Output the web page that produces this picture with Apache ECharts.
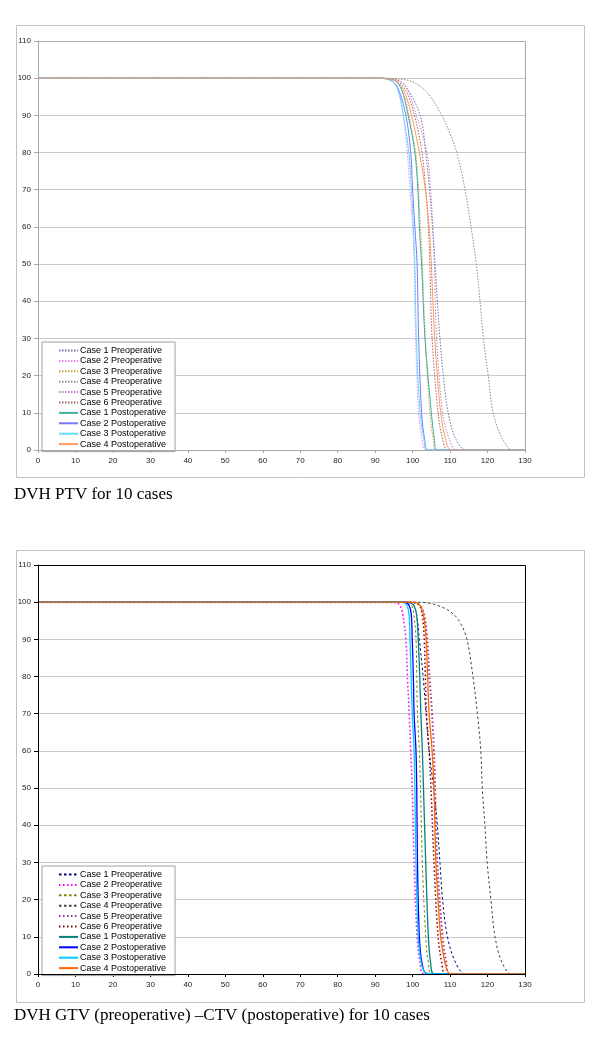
<!DOCTYPE html>
<html><head><meta charset="utf-8">
<script src="https://cdn.jsdelivr.net/npm/echarts@6/dist/echarts.min.js"></script>
<style>html,body{margin:0;padding:0;background:#fff;}#c1{position:absolute;left:0;top:0;width:600px;height:520px;}#c2{position:absolute;left:0;top:520px;width:600px;height:525px;}</style>
</head><body><div id="c1"></div><div id="c2"></div>
<script>
// ---------- DATA ----------
const seriesNames = ['Case 1 Preoperative','Case 2 Preoperative','Case 3 Preoperative','Case 4 Preoperative','Case 5 Preoperative','Case 6 Preoperative','Case 1 Postoperative','Case 2 Postoperative','Case 3 Postoperative','Case 4 Postoperative'];
const xTicks = [0,10,20,30,40,50,60,70,80,90,100,110,120,130];
const yTicks = [0,10,20,30,40,50,60,70,80,90,100,110];
const captionPTV = 'DVH PTV for 10 cases';
const captionGTV = 'DVH GTV (preoperative) \u2013CTV (postoperative) for 10 cases';

// Chart 1: PTV  (dose %, volume %)
const ptvPre1 = [[0,100],[90,100],[95,99.7],[98,98],[102,90],[103.5,80],[104.5,70],[105.3,60],[106,50],[106.6,40],[107.3,30],[108.2,20],[109.5,10],[111.5,3],[114.4,0],[130,0]];
const ptvPre2 = [[0,100],[90,100],[94,99.5],[96,97],[97.5,90],[98.6,80],[99.3,70],[100,60],[100.4,50],[100.8,30],[101.6,10],[102.5,3],[103.6,0],[130,0]];
const ptvPre3 = [[0,100],[90,100],[95,99.5],[97.5,96],[99,90],[100.8,80],[101.6,70],[102.1,60],[102.6,50],[103.4,30],[104.6,10],[105.5,3],[106.5,0],[130,0]];
const ptvPre4 = [[0,100],[90,100],[96,99.8],[100,99],[104,96],[107.8,90],[110,85],[111.8,80],[114,70],[115.6,60],[117,50],[118,40],[118.9,30],[120.2,20],[121.5,10],[124,3],[126.8,0],[130,0]];
const ptvPre5 = [[0,100],[90,100],[95,99.7],[98,98],[101,90],[103.8,80],[104.8,70],[105.4,60],[105.8,50],[106.4,30],[108,10],[109.8,3],[111.8,0],[130,0]];
const ptvPre6 = [[0,100],[90,100],[95,99.6],[98,97],[100.5,90],[102.5,80],[103.5,70],[104.2,60],[104.6,50],[105.2,30],[106.8,10],[108,3],[109.5,0],[130,0]];
const ptvPost1 = [[0,100],[90,100],[95,99.5],[97,97],[98.8,90],[100.6,80],[101.4,70],[101.8,60],[102.4,50],[103.3,30],[105,10],[105.8,3],[106.5,0],[130,0]];
const ptvPost2 = [[0,100],[90,100],[94,99.5],[96,97.5],[98.2,90],[99.5,80],[100,70],[100.6,60],[101.2,50],[101.6,30],[102.4,10],[103.2,3],[104.2,0],[130,0]];
const ptvPost3 = [[0,100],[90,100],[94,99.5],[96,97],[97.5,90],[99,80],[99.7,70],[100.2,60],[100.6,50],[101,30],[102,10],[103,3],[104,0],[130,0]];
const ptvPost4 = [[0,100],[90,100],[95,99.5],[97.5,97],[99.7,90],[101.8,80],[103.4,70],[104.4,60],[105,50],[105.4,40],[105.9,30],[106.6,20],[107.5,10],[108.8,3],[110.4,0],[130,0]];

// Chart 2: GTV (preoperative) / CTV (postoperative)
const gtvPre1 = [[0,100],[98,100],[100,99.5],[101,97],[101.8,90],[102.8,80],[103.6,70],[104.4,60],[105.6,50],[106.6,40],[107.3,30],[108,20],[109.3,10],[111.5,3],[114.2,0],[130,0]];
const gtvPre2 = [[0,100],[95,100],[96.5,99.3],[97.3,97],[98.2,90],[98.6,80],[99.1,70],[99.5,60],[99.9,50],[100.4,30],[101.2,10],[102,3],[103.1,0],[130,0]];
const gtvPre3 = [[0,100],[97,100],[99.5,99.5],[100.4,96],[100.9,90],[101.1,80],[101.3,70],[101.8,60],[102.1,50],[102.6,30],[103.5,10],[104.2,3],[105.2,0],[130,0]];
const gtvPre4 = [[0,100],[100,100],[104,99.8],[107,99],[110,97.5],[112.4,95],[114.5,90],[116.1,80],[117.3,70],[118.2,60],[118.6,50],[119.3,40],[119.9,30],[120.9,20],[122,10],[123.9,3],[126.5,0],[130,0]];
const gtvPre5 = [[0,100],[99,100],[101.5,99.5],[103,97],[103.9,90],[104.5,80],[105.2,70],[105.7,60],[106,50],[106.6,30],[108,10],[109,3],[109.7,0],[130,0]];
const gtvPre6 = [[0,100],[99,100],[101.5,99.5],[102.5,97],[103.1,90],[103.4,80],[103.7,70],[104.4,60],[104.9,50],[105.7,30],[106.8,10],[107.8,3],[108.9,0],[130,0]];
const gtvPost1 = [[0,100],[98,100],[100,99.5],[101,97],[101.5,90],[101.9,80],[102.2,70],[102.6,60],[102.9,50],[103.5,30],[104.2,10],[104.8,3],[105.7,0],[130,0]];
const gtvPost2 = [[0,100],[97,100],[98.8,99.5],[99.6,97],[99.9,90],[100.2,80],[100.4,70],[100.9,60],[101.1,50],[101.3,30],[101.8,10],[102.5,3],[103.9,0],[130,0]];
const gtvPost3 = [[0,100],[96,100],[98,99.7],[99,97],[99.3,90],[99.6,80],[99.9,70],[100.4,60],[100.6,50],[100.9,30],[101.5,10],[102.3,3],[103.5,0.3],[106,0],[130,0]];
const gtvPost4 = [[0,100],[99,100],[101.5,99.6],[102.8,97],[103.6,90],[104,80],[104.4,70],[105.2,60],[105.7,50],[106.2,30],[106.8,20],[107.5,10],[108.9,2],[110.2,0],[130,0]];

const ptvData = [ptvPre1,ptvPre2,ptvPre3,ptvPre4,ptvPre5,ptvPre6,ptvPost1,ptvPost2,ptvPost3,ptvPost4];
const gtvData = [gtvPre1,gtvPre2,gtvPre3,gtvPre4,gtvPre5,gtvPre6,gtvPost1,gtvPost2,gtvPost3,gtvPost4];

// ---------- STYLES ----------
const ptvStyles = [
  {color:'#7070a8',type:[1.5,1.5],width:1},
  {color:'#f080f0',type:[1.5,1.5],width:1},
  {color:'#d0a040',type:[1.5,1.5],width:1},
  {color:'#8a8a8a',type:[1.5,1.5],width:1},
  {color:'#c080c8',type:[1.5,1.5],width:1},
  {color:'#a06060',type:[1.5,1.5],width:1},
  {color:'#40b0a0',type:'solid',width:1},
  {color:'#7878ff',type:'solid',width:1},
  {color:'#60e0ff',type:'solid',width:1},
  {color:'#ff9a60',type:'solid',width:1}
];
const gtvStyles = [
  {color:'#000080',type:[2.5,2.5],width:1},
  {color:'#ff00ff',type:[1.5,2.5],width:1.6},
  {color:'#808000',type:[2.5,2.5],width:1},
  {color:'#404040',type:[2.5,2.5],width:1},
  {color:'#993399',type:[1.5,2.5],width:2},
  {color:'#800000',type:[1.5,2.5],width:1.5},
  {color:'#008080',type:'solid',width:1.3},
  {color:'#0000ff',type:'solid',width:1.3},
  {color:'#00ccff',type:'solid',width:1.3},
  {color:'#ff6600',type:'solid',width:1.3}
];

function buildOption(data, styles, frameColor, axisColor, frameTop, gridTop, legendTop, caption, captionTop){
  const series = data.map((d,i)=>({
    name: seriesNames[i], type:'line', data:d, symbol:'none', showSymbol:false,
    smooth:0.35, clip:true, animation:false,
    lineStyle:{color:styles[i].color,type:styles[i].type,width:styles[i].width},
    itemStyle:{color:styles[i].color}
  }));
  return {
    animation:false,
    graphic:[
      {type:'rect',shape:{x:16.5,y:frameTop+0.5,width:568,height:452},style:{fill:'none',stroke:'#c0c0c0',lineWidth:1},silent:true,z:-10},
      {type:'rect',shape:{x:38.5,y:gridTop+0.5,width:487,height:409},style:{fill:'none',stroke:axisColor,lineWidth:1},silent:true,z:100},
      {type:'text',left:14,top:captionTop,style:{text:caption,font:'17px "Liberation Serif", "DejaVu Serif", serif',fill:'#000'},silent:true}
    ],
    grid:{left:38,top:gridTop,width:487,height:409,containLabel:false},
    legend:{
      orient:'vertical', left:42, top:legendTop,
      data:seriesNames, backgroundColor:'#fff', borderColor:'#a0a0a0', borderWidth:1,
      padding:[4,9,3,16], itemWidth:19, itemHeight:9, itemGap:1.4, selectedMode:false,
      itemStyle:{opacity:0},
      textStyle:{fontFamily:'"Liberation Sans", Arial, sans-serif',fontSize:9,color:'#000',lineHeight:9,padding:[0,0,0,-3]}
    },
    xAxis:{type:'value',min:0,max:130,interval:10,
      axisLine:{show:true,onZero:false,lineStyle:{color:axisColor,width:1}},
      axisTick:{show:true,length:3,lineStyle:{color:axisColor}},
      axisLabel:{margin:7,fontFamily:'"Liberation Sans", Arial, sans-serif',fontSize:8,color:'#222',
        formatter:v=> xTicks.indexOf(v)>=0 ? String(v) : ''},
      splitLine:{show:false}},
    yAxis:{type:'value',min:0,max:110,interval:10,
      axisLine:{show:true,lineStyle:{color:axisColor,width:1}},
      axisTick:{show:true,length:4,lineStyle:{color:axisColor}},
      axisLabel:{margin:7,fontFamily:'"Liberation Sans", Arial, sans-serif',fontSize:8,color:'#222',
        formatter:v=> yTicks.indexOf(v)>=0 ? String(v) : ''},
      splitLine:{show:true,lineStyle:{color:'#c8c8c8',width:1}}},
    series: series
  };
}

const ch1 = echarts.init(document.getElementById('c1'),null,{renderer:'canvas'});
ch1.setOption(buildOption(ptvData, ptvStyles, '#a8a8a8', '#a8a8a8', 25, 41, 342, captionPTV, 486));
const ch2 = echarts.init(document.getElementById('c2'),null,{renderer:'canvas'});
ch2.setOption(buildOption(gtvData, gtvStyles, '#000', '#000', 30, 45, 346, captionGTV, 487));
</script></body></html>
